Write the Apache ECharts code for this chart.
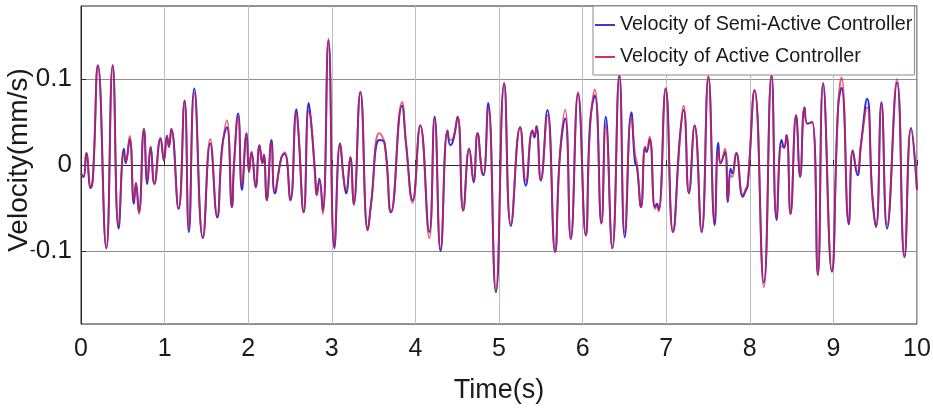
<!DOCTYPE html>
<html>
<head>
<meta charset="utf-8">
<script src="https://cdn.jsdelivr.net/npm/echarts@6/dist/echarts.min.js"></script>
<style>html,body{margin:0;padding:0;background:#fff}#c{width:933px;height:412px}</style>
</head>
<body>
<div id="c"></div>
<script>
const seriesNames = ['Velocity of Semi-Active Controller', 'Velocity of Active Controller'];
const xTicks = [0,1,2,3,4,5,6,7,8,9,10];
const timeS = [0.000,0.030,0.064,0.116,0.143,0.203,0.303,0.379,0.450,0.514,0.535,0.582,0.633,0.657,0.693,0.753,0.793,0.833,0.877,0.952,0.992,1.028,1.052,1.080,1.167,1.239,1.290,1.355,1.458,1.546,1.629,1.689,1.745,1.805,1.830,1.880,1.925,1.980,2.010,2.040,2.090,2.135,2.170,2.188,2.222,2.278,2.318,2.398,2.437,2.505,2.577,2.601,2.664,2.724,2.752,2.800,2.820,2.852,2.892,2.960,3.031,3.099,3.142,3.171,3.222,3.262,3.342,3.430,3.470,3.569,3.630,3.708,3.840,3.888,3.967,4.058,4.166,4.230,4.301,4.385,4.417,4.453,4.505,4.572,4.644,4.696,4.743,4.795,4.815,4.871,4.963,5.062,5.142,5.253,5.321,5.400,5.425,5.448,5.500,5.579,5.671,5.727,5.791,5.859,5.946,6.038,6.090,6.146,6.225,6.277,6.356,6.440,6.504,6.583,6.627,6.650,6.699,6.747,6.765,6.802,6.866,6.890,6.910,6.994,7.081,7.165,7.209,7.272,7.340,7.424,7.505,7.580,7.623,7.651,7.703,7.738,7.770,7.790,7.838,7.917,7.950,7.975,8.057,8.168,8.260,8.320,8.380,8.410,8.440,8.487,8.554,8.602,8.655,8.690,8.746,8.814,8.877,8.981,9.056,9.097,9.184,9.232,9.288,9.331,9.403,9.465,9.510,9.575,9.642,9.761,9.850,9.929,10.000];
const semiActive = [-0.010,-0.014,0.014,-0.027,-0.014,0.116,-0.097,0.116,-0.074,0.019,0.002,0.030,-0.045,-0.021,-0.055,0.042,-0.022,0.021,-0.022,0.031,0.005,0.034,0.021,0.042,-0.051,0.075,-0.078,0.089,-0.085,0.025,-0.061,0.022,0.044,-0.049,0.000,0.060,-0.029,0.037,-0.008,0.015,-0.026,0.023,0.002,0.012,-0.041,0.029,-0.033,0.009,0.013,-0.041,0.065,0.038,-0.055,0.072,0.050,-0.010,-0.035,-0.016,-0.053,0.145,-0.097,0.025,-0.016,-0.033,0.009,-0.046,0.085,-0.076,-0.045,0.029,0.026,-0.055,0.069,0.025,-0.041,0.046,-0.078,0.056,-0.100,0.040,0.023,0.029,0.056,-0.053,0.019,-0.020,0.037,-0.008,-0.012,0.072,-0.148,0.095,-0.071,0.044,-0.024,0.040,0.032,0.045,-0.018,0.064,-0.101,0.009,0.054,-0.086,0.083,-0.082,0.050,0.081,-0.068,0.056,-0.097,0.104,-0.084,0.061,0.003,-0.002,-0.049,0.021,0.015,0.030,-0.049,-0.045,-0.052,0.089,-0.078,0.034,0.064,-0.033,0.046,-0.078,0.102,-0.070,0.026,0.002,0.015,-0.043,-0.004,-0.010,0.014,-0.037,-0.030,-0.024,0.087,-0.137,0.104,-0.064,0.029,0.020,0.035,-0.057,0.058,-0.014,0.067,0.048,0.050,-0.128,0.095,-0.124,0.067,0.090,-0.069,0.017,-0.012,0.025,0.077,-0.035,-0.072,0.073,-0.074,0.096,-0.107,0.043,-0.029];
const active = [-0.010,-0.014,0.014,-0.027,-0.014,0.116,-0.097,0.116,-0.072,0.014,0.004,0.034,-0.041,-0.021,-0.057,0.042,-0.019,0.021,-0.022,0.031,0.006,0.034,0.021,0.042,-0.051,0.075,-0.074,0.084,-0.085,0.030,-0.059,0.018,0.052,-0.049,0.000,0.056,-0.024,0.037,-0.008,0.015,-0.026,0.023,0.002,0.012,-0.041,0.027,-0.030,0.009,0.015,-0.041,0.061,0.040,-0.055,0.063,0.052,-0.012,-0.035,-0.018,-0.057,0.147,-0.095,0.025,-0.016,-0.030,0.009,-0.046,0.085,-0.076,-0.045,0.037,0.026,-0.055,0.073,0.025,-0.044,0.046,-0.085,0.054,-0.098,0.040,0.029,0.032,0.056,-0.053,0.019,-0.018,0.037,-0.008,-0.011,0.067,-0.148,0.095,-0.069,0.044,-0.018,0.040,0.035,0.045,-0.018,0.058,-0.101,0.009,0.064,-0.086,0.085,-0.082,0.043,0.088,-0.068,0.046,-0.097,0.106,-0.078,0.056,0.013,0.002,-0.049,0.021,0.017,0.033,-0.051,-0.048,-0.054,0.089,-0.078,0.030,0.069,-0.033,0.046,-0.078,0.104,-0.066,0.017,0.002,0.019,-0.041,-0.012,-0.014,0.014,-0.035,-0.028,-0.022,0.087,-0.142,0.106,-0.062,0.022,0.020,0.035,-0.057,0.058,-0.014,0.067,0.048,0.050,-0.128,0.095,-0.124,0.067,0.102,-0.067,0.017,-0.008,0.025,0.067,-0.035,-0.072,0.071,-0.070,0.100,-0.107,0.043,-0.029];

const pairs = (xs, ys) => xs.map((x, i) => [x, ys[i]]);

// pick the narrowest available sans font and fit the legend size by measured width
const cv = document.createElement('canvas').getContext('2d');
function hasFont(name) {
  const probe = 'Velocity of Semi-Active Controller 0123456789';
  for (const base of ['monospace', 'serif']) {
    cv.font = '40px ' + base; const w0 = cv.measureText(probe).width;
    cv.font = "40px '" + name + "', " + base; const w1 = cv.measureText(probe).width;
    if (Math.abs(w1 - w0) > 0.5) return true;
  }
  return false;
}
const narrowCandidates = ['Liberation Sans Narrow', 'Arial Narrow', 'Noto Sans ExtraCondensed', 'Noto Sans Condensed', 'Liberation Sans'];
let narrowName = 'Liberation Sans';
for (const n of narrowCandidates) { if (hasFont(n)) { narrowName = n; break; } }
const isNarrow = narrowName !== 'Liberation Sans';
const narrow = "'" + narrowName + "', 'Liberation Sans', sans-serif";
const sans = "'Liberation Sans', Arial, sans-serif";
function fitSize(text, family, targetWidth) {
  cv.font = '100px ' + family;
  return Math.floor(100 * targetWidth / cv.measureText(text).width * 10) / 10;
}
const legendSize = Math.min(28, fitSize(seriesNames[0], narrow, 294));
const xNameSize = isNarrow ? 30 : 27;
const xTickSize = isNarrow ? 30 : 25;

const chart = echarts.init(document.getElementById('c'), null, {renderer: 'canvas'});
chart.setOption({
  animation: false,
  backgroundColor: '#ffffff',
  grid: {left: 81, right: 16, top: 6, bottom: 88, outerBoundsMode: 'none', containLabel: false,
         show: true, borderColor: '#2b2b2b', borderWidth: 1, backgroundColor: 'transparent'},
  legend: {
    orient: 'vertical', left: 593, top: 6, padding: [5, 2, 4, 2], itemGap: 4,
    itemWidth: 20, itemHeight: 2, icon: 'rect',
    backgroundColor: '#ffffff', borderColor: '#8a8a8a', borderWidth: 1,
    textStyle: {fontFamily: narrow, fontSize: legendSize, color: '#1a1a1a', lineHeight: 28},
    data: seriesNames
  },
  xAxis: {
    type: 'value', min: xTicks[0], max: xTicks[xTicks.length - 1], interval: 1,
    name: 'Time(s)', nameLocation: 'middle', nameGap: 53, nameMoveOverlap: false,
    nameTextStyle: {fontFamily: narrow, fontSize: xNameSize, color: '#1a1a1a'},
    axisLine: {show: true, lineStyle: {color: '#2b2b2b'}},
    axisTick: {show: true, inside: true, length: 5, lineStyle: {color: '#2b2b2b'}},
    axisLabel: {fontFamily: narrow, fontSize: xTickSize, color: '#1a1a1a', margin: 13},
    splitLine: {show: true, lineStyle: {color: '#bdbdbd', width: 1}}
  },
  yAxis: {
    type: 'value', min: -0.185, max: 0.185, minInterval: 0.1, maxInterval: 0.1,
    name: 'Velocity(mm/s)', nameLocation: 'middle', nameGap: 48, nameMoveOverlap: false,
    nameTextStyle: {fontFamily: sans, fontSize: 28, color: '#1a1a1a', padding: [0, 0, 0, 10]},
    axisLine: {show: true, lineStyle: {color: '#2b2b2b'}},
    axisTick: {show: true, inside: true, length: 5, lineStyle: {color: '#2b2b2b'}},
    axisLabel: {
      fontFamily: sans, fontSize: 26, color: '#1a1a1a', margin: 9, showMinLabel: false, showMaxLabel: false,
      formatter: v => (v < 0 ? '{m|-}' + String(+(-v).toFixed(3)) : String(+v.toFixed(3))),
      rich: {m: {fontFamily: sans, fontSize: 18, color: '#1a1a1a'}}
    },
    splitLine: {show: true, lineStyle: {color: '#8f8f8f', width: 1}}
  },
  series: [
    {name: seriesNames[0], type: 'line', data: pairs(timeS, semiActive), smooth: 0.5, symbol: 'none',
     lineStyle: {color: '#2a2ae0', width: 2}, itemStyle: {color: '#3a3ad0'}, z: 2},
    {name: seriesNames[1], type: 'line', data: pairs(timeS, active), smooth: 0.5, symbol: 'none',
     lineStyle: {color: '#e0203c', width: 1.8, opacity: 0.72}, itemStyle: {color: '#d83050'}, z: 3}
  ]
});
</script>
</body>
</html>
